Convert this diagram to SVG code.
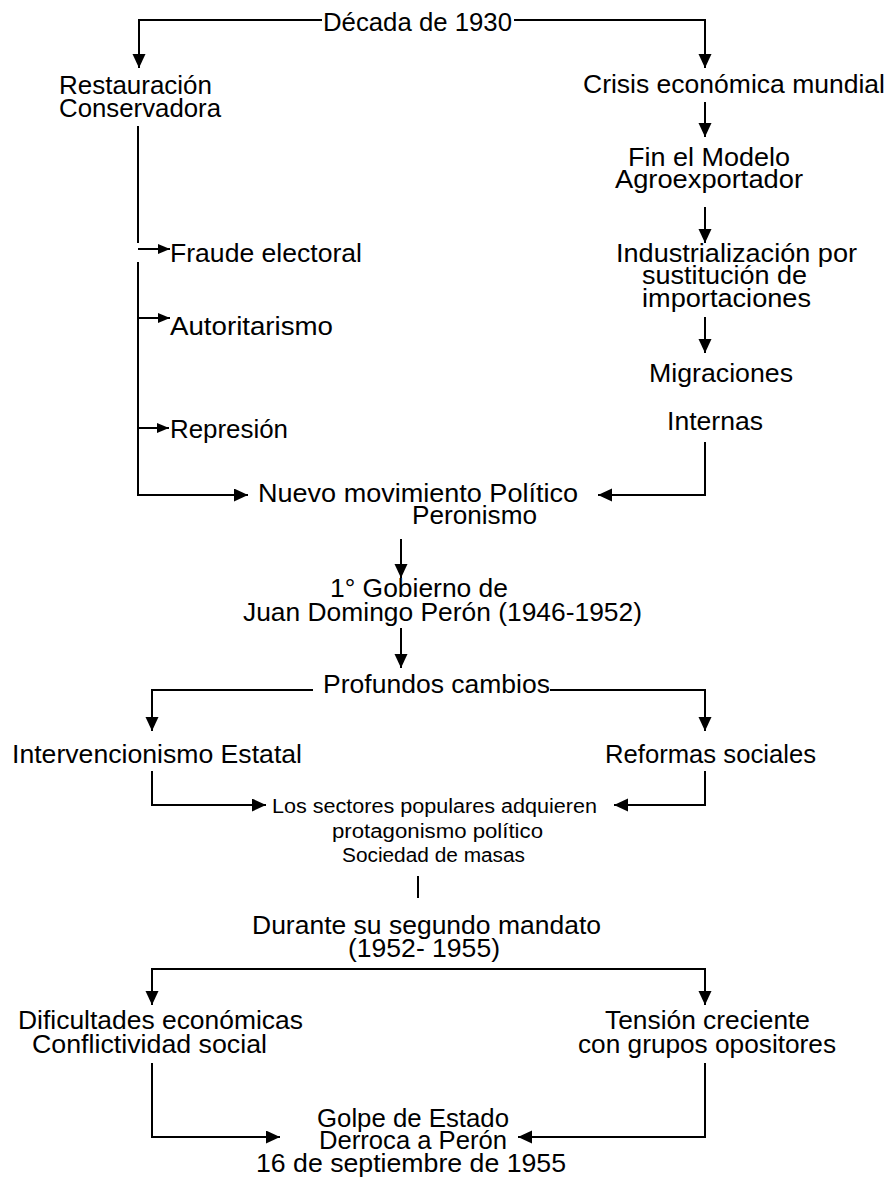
<svg xmlns="http://www.w3.org/2000/svg" width="888" height="1178" viewBox="0 0 888 1178">
<style>
text{font-family:"Liberation Sans",Arial,sans-serif;fill:#000;}
.t{font-size:26px;}
.s{font-size:20px;}
.c{fill:none;stroke:#000;stroke-width:2;}
</style>
<defs>
<marker id="ah" markerUnits="userSpaceOnUse" markerWidth="16" markerHeight="14" refX="14" refY="6.5" orient="auto"><path d="M0,0 L14,6.5 L0,13 z" fill="#000"/></marker>
<marker id="as" markerUnits="userSpaceOnUse" markerWidth="14" markerHeight="12" refX="12" refY="5" orient="auto"><path d="M0,0 L12,5 L0,10 z" fill="#000"/></marker>
</defs>
<rect width="888" height="1178" fill="#fff"/>
<g id="connectors">
<polyline class="c" points="322,20 139,20 139,68" marker-end="url(#ah)"/>
<polyline class="c" points="514,20 705,20 705,68" marker-end="url(#ah)"/>
<line class="c" x1="705" y1="102" x2="705" y2="137" marker-end="url(#ah)"/>
<line class="c" x1="705" y1="207" x2="705" y2="243" marker-end="url(#ah)"/>
<line class="c" x1="705" y1="317" x2="705" y2="353" marker-end="url(#ah)"/>
<polyline class="c" points="705,442 705,495 598,495" marker-end="url(#ah)"/>
<line class="c" x1="138" y1="126" x2="138" y2="243"/>
<polyline class="c" points="138,262 138,495 248,495" marker-end="url(#ah)"/>
<line class="c" x1="138" y1="249" x2="170" y2="249" marker-end="url(#as)"/>
<line class="c" x1="138" y1="318" x2="170" y2="318" marker-end="url(#as)"/>
<line class="c" x1="138" y1="428" x2="169" y2="428" marker-end="url(#as)"/>
<line class="c" x1="401" y1="539" x2="401" y2="578" marker-end="url(#ah)"/>
<line class="c" x1="401" y1="628" x2="401" y2="668" marker-end="url(#ah)"/>
<polyline class="c" points="313,690 152,690 152,731" marker-end="url(#ah)"/>
<polyline class="c" points="550,690 705,690 705,731" marker-end="url(#ah)"/>
<polyline class="c" points="152,771 152,805 266,805" marker-end="url(#ah)"/>
<polyline class="c" points="705,771 705,805 614,805" marker-end="url(#ah)"/>
<line class="c" x1="418" y1="876" x2="418" y2="898"/>
<polyline class="c" points="428,969 152,969 152,1005" marker-end="url(#ah)"/>
<polyline class="c" points="428,969 705,969 705,1005" marker-end="url(#ah)"/>
<polyline class="c" points="152,1063 152,1137 280,1137" marker-end="url(#ah)"/>
<polyline class="c" points="705,1063 705,1137 518,1137" marker-end="url(#ah)"/>
</g>
<g id="decada"><text class="t" x="323" y="31" textLength="189" lengthAdjust="spacingAndGlyphs">Década de 1930</text></g>
<g id="restauracion"><text class="t" x="59" y="94" textLength="153" lengthAdjust="spacingAndGlyphs">Restauración</text><text class="t" x="59" y="117" textLength="162" lengthAdjust="spacingAndGlyphs">Conservadora</text></g>
<g id="crisis"><text class="t" x="583" y="93" textLength="302" lengthAdjust="spacingAndGlyphs">Crisis económica mundial</text></g>
<g id="fin-modelo"><text class="t" x="628" y="166" textLength="162" lengthAdjust="spacingAndGlyphs">Fin el Modelo</text><text class="t" x="615" y="188" textLength="188" lengthAdjust="spacingAndGlyphs">Agroexportador</text></g>
<g id="industrializacion"><text class="t" x="616" y="262" textLength="241" lengthAdjust="spacingAndGlyphs">Industrialización por</text><text class="t" x="642" y="284" textLength="165" lengthAdjust="spacingAndGlyphs">sustitución de</text><text class="t" x="642" y="307" textLength="169" lengthAdjust="spacingAndGlyphs">importaciones</text></g>
<g id="migraciones"><text class="t" x="649" y="382" textLength="144" lengthAdjust="spacingAndGlyphs">Migraciones</text></g>
<g id="internas"><text class="t" x="667" y="430" textLength="96" lengthAdjust="spacingAndGlyphs">Internas</text></g>
<g id="fraude"><text class="t" x="170" y="262" textLength="192" lengthAdjust="spacingAndGlyphs">Fraude electoral</text></g>
<g id="autoritarismo"><text class="t" x="170" y="335" textLength="163" lengthAdjust="spacingAndGlyphs">Autoritarismo</text></g>
<g id="represion"><text class="t" x="170" y="438" textLength="118" lengthAdjust="spacingAndGlyphs">Represión</text></g>
<g id="nuevo-movimiento"><text class="t" x="258" y="502" textLength="320" lengthAdjust="spacingAndGlyphs">Nuevo movimiento Político</text><text class="t" x="412" y="524" textLength="125" lengthAdjust="spacingAndGlyphs">Peronismo</text></g>
<g id="gobierno"><text class="t" x="330" y="597" textLength="178" lengthAdjust="spacingAndGlyphs">1° Gobierno de</text><text class="t" x="243" y="621" textLength="399" lengthAdjust="spacingAndGlyphs">Juan Domingo Perón (1946-1952)</text></g>
<g id="profundos"><text class="t" x="323" y="693" textLength="227" lengthAdjust="spacingAndGlyphs">Profundos cambios</text></g>
<g id="intervencionismo"><text class="t" x="12" y="763" textLength="290" lengthAdjust="spacingAndGlyphs">Intervencionismo Estatal</text></g>
<g id="reformas"><text class="t" x="605" y="763" textLength="211" lengthAdjust="spacingAndGlyphs">Reformas sociales</text></g>
<g id="sectores"><text class="s" x="272" y="813" textLength="325" lengthAdjust="spacingAndGlyphs">Los sectores populares adquieren</text><text class="s" x="332" y="838" textLength="211" lengthAdjust="spacingAndGlyphs">protagonismo político</text><text class="s" x="342" y="862" textLength="183" lengthAdjust="spacingAndGlyphs">Sociedad de masas</text></g>
<g id="segundo-mandato"><text class="t" x="252" y="934" textLength="349" lengthAdjust="spacingAndGlyphs">Durante su segundo mandato</text><text class="t" x="348" y="957" textLength="152" lengthAdjust="spacingAndGlyphs">(1952- 1955)</text></g>
<g id="dificultades"><text class="t" x="18" y="1029" textLength="285" lengthAdjust="spacingAndGlyphs">Dificultades económicas</text><text class="t" x="32" y="1053" textLength="235" lengthAdjust="spacingAndGlyphs">Conflictividad social</text></g>
<g id="tension"><text class="t" x="605" y="1029" textLength="205" lengthAdjust="spacingAndGlyphs">Tensión creciente</text><text class="t" x="578" y="1053" textLength="258" lengthAdjust="spacingAndGlyphs">con grupos opositores</text></g>
<g id="golpe"><text class="t" x="317" y="1127" textLength="192" lengthAdjust="spacingAndGlyphs">Golpe de Estado</text><text class="t" x="319" y="1149" textLength="188" lengthAdjust="spacingAndGlyphs">Derroca a Perón</text><text class="t" x="256" y="1172" textLength="310" lengthAdjust="spacingAndGlyphs">16 de septiembre de 1955</text></g>
</svg>
